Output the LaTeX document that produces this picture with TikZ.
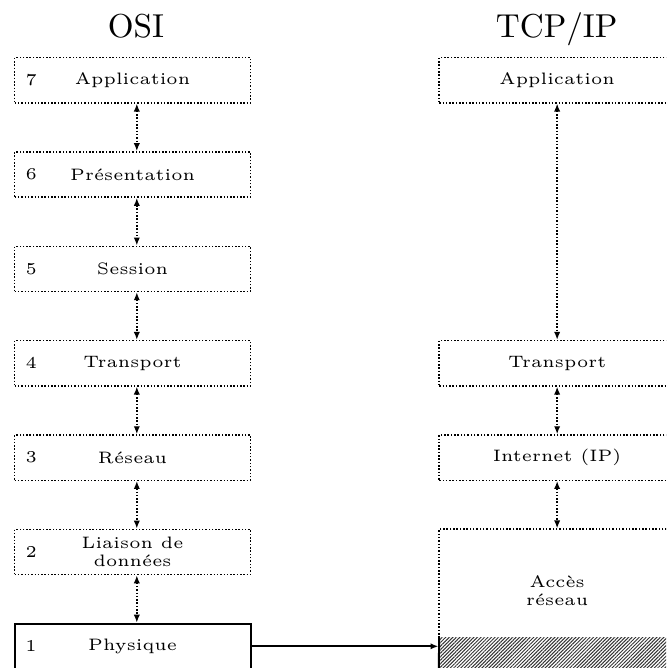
\documentclass[tikz,border=0pt]{standalone}
\usepackage{tikz}
\usetikzlibrary{arrows.meta,patterns.meta}

\begin{document}
\begin{tikzpicture}[
    >={Latex[length=2.4pt,width=1.9pt]},
    pointille/.style={line width=0.45pt, dash pattern=on 0.45pt off 0.55pt},
    couche/.style={draw, pointille, minimum width=2.5cm, minimum height=0.48cm,
      inner sep=0pt, align=center, font=\fontsize{5}{5.4}\selectfont},
    num/.style={anchor=west, font=\fontsize{5}{6}\selectfont},
    titre/.style={anchor=base, font=\normalsize}]

  \newcommand\Xoff{0.045cm}

  \useasboundingbox (0,0) rectangle (7.06,-7.08);
  \clip (0,0) rectangle (7.06,-7.08);

  %% titres
  \node[titre] (osi) at (1.44,-0.40) {OSI};
  \node[titre] (tcpip) at (5.90,-0.40) {TCP/IP};

  %% modele OSI
  \node[couche] (osi7) at (1.405,-0.85) {Application};
  \node[couche] (osi6) at (1.405,-1.85) {Présentation};
  \node[couche] (osi5) at (1.405,-2.85) {Session};
  \node[couche] (osi4) at (1.405,-3.85) {Transport};
  \node[couche] (osi3) at (1.405,-4.85) {Réseau};
  \node[couche] (osi2) at (1.405,-5.85) {Liaison de\\données};
  \node[couche, solid, semithick] (osi1) at (1.405,-6.85) {Physique};

  \node[num] (n7) at (osi7.west) {7};
  \node[num] (n6) at (osi6.west) {6};
  \node[num] (n5) at (osi5.west) {5};
  \node[num] (n4) at (osi4.west) {4};
  \node[num] (n3) at (osi3.west) {3};
  \node[num] (n2) at (osi2.west) {2};
  \node[num] (n1) at (osi1.west) {1};

  \draw[<->, pointille] ([xshift=\Xoff]osi7.south) -- ([xshift=\Xoff]osi6.north); %% 7<->6
  \draw[<->, pointille] ([xshift=\Xoff]osi6.south) -- ([xshift=\Xoff]osi5.north); %% 6<->5
  \draw[<->, pointille] ([xshift=\Xoff]osi5.south) -- ([xshift=\Xoff]osi4.north); %% 5<->4
  \draw[<->, pointille] ([xshift=\Xoff]osi4.south) -- ([xshift=\Xoff]osi3.north); %% 4<->3
  \draw[<->, pointille] ([xshift=\Xoff]osi3.south) -- ([xshift=\Xoff]osi2.north); %% 3<->2
  \draw[<->, pointille] ([xshift=\Xoff]osi2.south) -- ([xshift=\Xoff]osi1.north); %% 2<->1

  %% modele TCP/IP
  \node[couche] (tcp4) at (5.905,-0.85) {Application};
  \node[couche] (tcp3) at (5.905,-3.85) {Transport};
  \node[couche] (tcp2) at (5.905,-4.85) {Internet (IP)};
  \coordinate (hachure) at (4.655,-6.755);
  \fill[pattern={Lines[angle=45,distance=0.75pt,line width=0.3pt]}, pattern color=black!80]
    (hachure) rectangle (7.3,-7.3);
  \node[couche, minimum height=1.7cm, anchor=north] (tcp1) at (5.905,-5.6) {};
  \node[align=center, font=\fontsize{5}{5.3}\selectfont] (acces) at (5.905,-6.26) {Accès\\réseau};
  \draw[semithick] (hachure) -- (tcp1.south west);

  \draw[<->, pointille] (tcp4.south) -- (tcp3.north); % application<->transport
  \draw[<->, pointille] (tcp3.south) -- (tcp2.north); % transport<->internet
  \draw[<->, pointille] (tcp2.south) -- (tcp1.north); % internet<->acces

  \draw[->, semithick] (osi1.east) -- (osi1.east -| tcp1.west); % physique->acces
\end{tikzpicture}
\end{document}
